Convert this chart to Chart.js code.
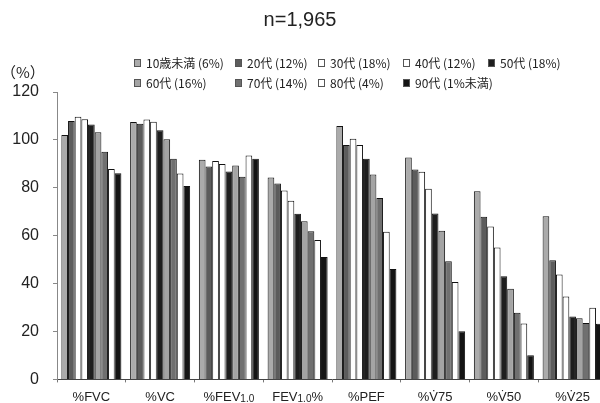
<!DOCTYPE html>
<html lang="ja">
<head>
<meta charset="UTF-8">
<title>年代別 肺機能検査値</title>
<script src="https://cdn.jsdelivr.net/npm/chart.js"></script>
<style>
  html, body { margin: 0; padding: 0; background: #fff; overflow: hidden; }
  #wrap { width: 612px; height: 403px; }
</style>
</head>
<body>
<div id="wrap"><canvas id="lungChart" width="612" height="403"></canvas></div>
<script>
// 検査項目
const categories = ['%FVC', '%VC', '%FEV1.0', 'FEV1.0%', '%PEF', '%V\u030775', '%V\u030750', '%V\u030725'];

// 年代（構成比）
const ageLabels = ['10歳未満 (6%)', '20代 (12%)', '30代 (18%)', '40代 (12%)', '50代 (18%)',
                   '60代 (16%)', '70代 (14%)', '80代 (4%)', '90代 (1%未満)'];

// 年代別の平均値（%）
const under10 = [102.0, 107.5, 91.7, 84.3, 105.8, 92.6, 78.6, 68.1];
const age20s  = [107.9, 106.7, 88.9, 81.8, 97.9, 87.6, 67.9, 49.7];
const age30s  = [109.7, 108.5, 91.2, 78.9, 100.5, 86.7, 63.8, 43.8];
const age40s  = [108.6, 107.6, 89.9, 74.6, 97.9, 79.6, 55.1, 34.6];
const age50s  = [106.4, 104.0, 86.8, 69.2, 92.1, 69.3, 43.1, 26.3];
const age60s  = [103.2, 100.3, 89.3, 66.0, 85.6, 62.1, 37.9, 25.5];
const age70s  = [95.1, 92.1, 84.6, 61.9, 75.7, 49.3, 27.8, 23.6];
const age80s  = [87.8, 86.0, 93.5, 58.2, 61.7, 40.7, 23.3, 29.9];
const age90s  = [86.1, 80.8, 92.1, 51.1, 46.1, 20.1, 10.1, 23.2];

// Y軸目盛
const yTicks = [0, 20, 40, 60, 80, 100, 120];

const seriesValues = [under10, age20s, age30s, age40s, age50s, age60s, age70s, age80s, age90s];
const fills = ['#ababab', '#5c5c5c', '#ffffff', '#ffffff', '#1e1e1e', '#a4a4a4', '#707070', '#ffffff', '#141414'];

const datasets = seriesValues.map((vals, i) => ({
  label: ageLabels[i],
  data: vals,
  backgroundColor: fills[i],
  borderColor: '#111',
  borderWidth: 1,
  borderSkipped: 'bottom'
}));

// 凡例の配置（2段）
const legendCols = [134, 235, 318, 403, 488];
const legendRows = [63, 83];

const decorPlugin = {
  id: 'decor',
  afterDraw(chart) {
    const ctx = chart.ctx;
    const xScale = chart.scales.x;
    ctx.save();

    // タイトル
    ctx.fillStyle = '#222';
    ctx.font = '20px "Liberation Sans", Arial, sans-serif';
    ctx.textAlign = 'center';
    ctx.textBaseline = 'middle';
    ctx.fillText('n=1,965', 300, 20);

    // 単位
    ctx.font = '15px "Noto Sans CJK JP", sans-serif';
    ctx.textAlign = 'left';
    ctx.fillText('（%）', 1, 72);

    // 凡例
    ctx.font = '12px "Noto Sans CJK JP", sans-serif';
    chart.data.datasets.forEach((ds, i) => {
      const col = i < 5 ? i : i - 5;
      const row = i < 5 ? 0 : 1;
      const x = legendCols[col];
      const y = legendRows[row];
      ctx.fillStyle = ds.backgroundColor;
      ctx.fillRect(x, y - 4, 7, 8);
      ctx.strokeStyle = '#555';
      ctx.lineWidth = 1;
      ctx.strokeRect(x + 0.5, y - 3.5, 6, 7);
      ctx.fillStyle = '#222';
      ctx.fillText(ds.label, x + 12, y);
    });

    // X軸ラベル（1.0 は下付き）
    chart.data.labels.forEach((lab, i) => {
      const cx = xScale.getPixelForValue(i);
      const y = 397;
      const parts = lab.split('1.0');
      const mainFont = '13px "Liberation Sans", Arial, sans-serif';
      const subFont = '10px "Liberation Sans", Arial, sans-serif';
      let w = 0;
      ctx.font = mainFont;
      w += ctx.measureText(parts[0]).width;
      if (parts.length > 1) {
        w += ctx.measureText(parts[1]).width;
        ctx.font = subFont;
        w += ctx.measureText('1.0').width;
      }
      let x = cx - w / 2;
      ctx.textAlign = 'left';
      ctx.fillStyle = '#222';
      ctx.font = mainFont;
      ctx.fillText(parts[0], x, y);
      x += ctx.measureText(parts[0]).width;
      if (parts.length > 1) {
        ctx.font = subFont;
        ctx.fillText('1.0', x, y + 2);
        x += ctx.measureText('1.0').width;
        ctx.font = mainFont;
        ctx.fillText(parts[1], x, y);
      }
    });
    ctx.restore();
  }
};

const ctx = document.getElementById('lungChart').getContext('2d');
const lungChart = new Chart(ctx, {
  type: 'bar',
  data: { labels: categories, datasets: datasets },
  options: {
    responsive: false,
    animation: false,
    layout: { padding: { top: 92, right: 5, left: 0, bottom: 0 } },
    datasets: { bar: { categoryPercentage: 0.873, barPercentage: 1.0 } },
    plugins: { legend: { display: false }, tooltip: { enabled: false } },
    scales: {
      x: {
        offset: true,
        afterFit(scale) { scale.height = 23; },
        ticks: { display: false },
        grid: { drawOnChartArea: false, tickLength: 3, color: '#777' },
        border: { color: '#444' }
      },
      y: {
        min: 0,
        max: 120,
        afterFit(scale) { scale.width = 57; },
        afterBuildTicks(scale) { scale.ticks = yTicks.map(v => ({ value: v })); },
        ticks: {
          color: '#222',
          padding: 14,
          font: { size: 16, family: '"Liberation Sans", Arial, sans-serif' }
        },
        grid: { drawOnChartArea: false, tickLength: 4, color: '#888' },
        border: { color: '#888' }
      }
    }
  },
  plugins: [decorPlugin]
});
</script>
</body>
</html>
